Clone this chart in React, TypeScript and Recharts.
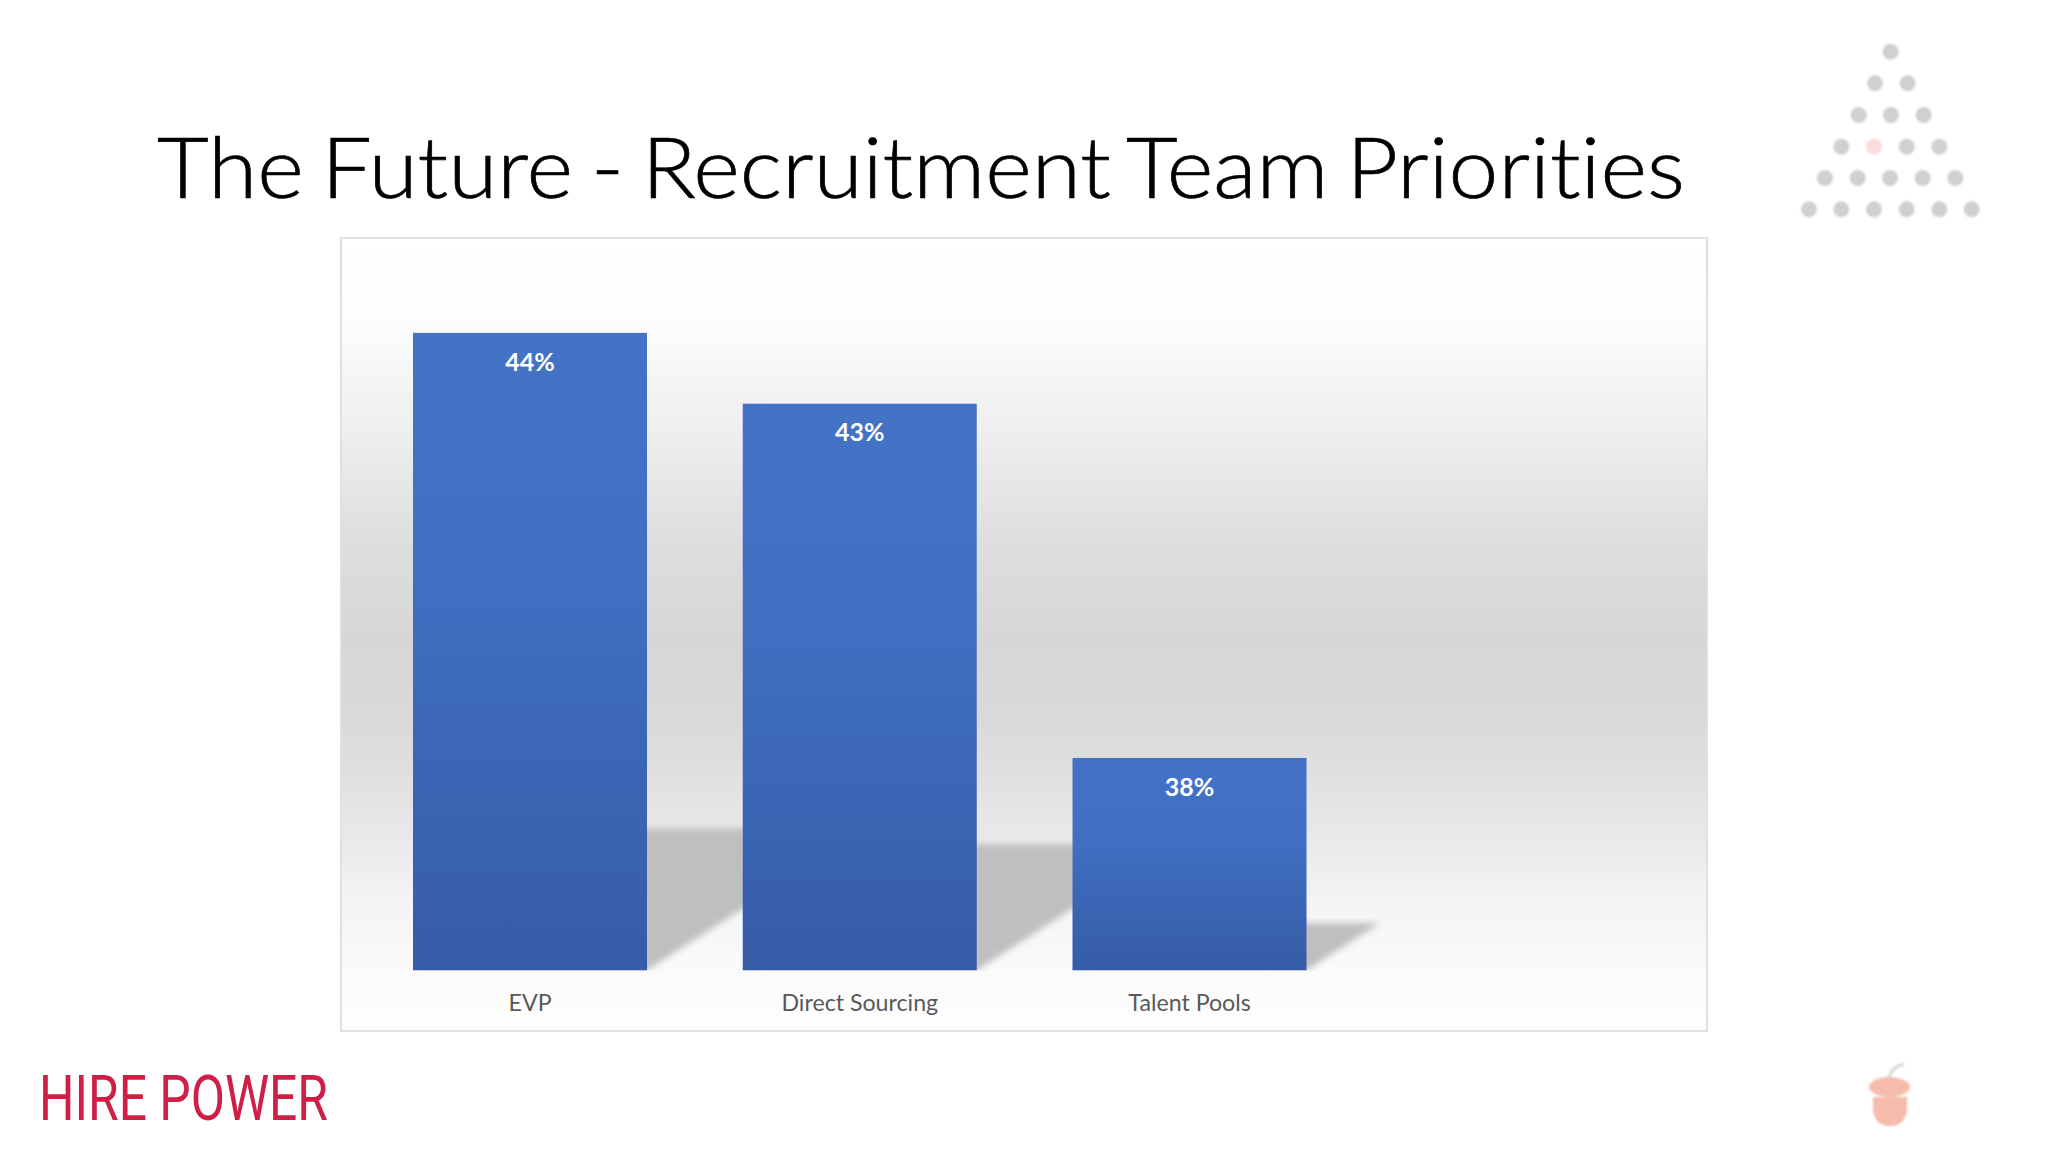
import React from 'react';
import { BarChart, Bar, XAxis, YAxis, LabelList } from 'recharts';

const categories = ['EVP', 'Direct Sourcing', 'Talent Pools', ''];
const values: (number | null)[] = [44, 43, 38, null];
const yDomain = [35, 45];
const titleText = 'The Future - Recruitment Team Priorities';
const logoText = 'HIRE POWER';

const table = categories.map((name, i) => ({ name, value: values[i] }));

const dotRows: number[][] = [
  [392],
  [345, 443],
  [296, 393, 491],
  [244, 342, 440, 538],
  [195, 293, 390, 488, 586],
  [147, 244, 342, 440, 538, 635],
];
const dotRowY = [95, 190, 285, 380, 474, 568];

const frameGradient =
  'linear-gradient(to bottom,#ffffff 0%,#fcfcfc 12%,#f9f9f9 13.5%,#eeeeee 25%,#dedede 38%,#d6d6d6 51%,#dadada 61%,#dfdedf 66%,#e8e8ea 75%,#f4f4f6 84%,#fafafb 92%,#fefeff 100%)';

const BarWithShadow = (props: any) => {
  const { x, y, width, height } = props;
  if (height == null || height <= 0) return null;
  const base = y + height;
  const dy = height * 0.223;
  const dx = height * 0.345;
  const pts = [
    [x, base],
    [x + width, base],
    [x + width + dx, base - dy],
    [x + dx, base - dy],
  ]
    .map((p) => p.join(','))
    .join(' ');
  return (
    <g>
      <polygon points={pts} fill="#bfbfbf" filter="url(#shadowBlur)" />
      <rect x={x} y={y} width={width} height={height} fill="url(#barFill)" />
    </g>
  );
};

export default function App() {
  return (
    <div style={{ position: 'absolute', left: 0, top: 0, width: 2048, height: 1152, background: '#ffffff', overflow: 'hidden' }}>
      <div
        style={{
          position: 'absolute',
          left: 340,
          top: 237,
          width: 1368,
          height: 795,
          boxSizing: 'border-box',
          border: '2px solid #e0e0e0',
          background: frameGradient,
        }}
      />
      <svg width={2048} height={1152} style={{ position: 'absolute', left: 0, top: 0 }}>
        <text
          x={157}
          y={198}
          textLength={1528}
          lengthAdjust="spacingAndGlyphs"
          fontFamily="Lato"
          fontWeight={300}
          fontSize={84}
          fill="#000000"
          stroke="#000000"
          strokeWidth={0.7}
          wordSpacing={-6}
          style={{ fontVariantLigatures: 'none' }}
        >
          {titleText}
        </text>
        <text
          x={39}
          y={1120}
          textLength={289}
          lengthAdjust="spacingAndGlyphs"
          fontFamily="Roboto"
          fontWeight={400}
          fontSize={63}
          fill="#cf1f45"
        >
          {logoText}
        </text>
        <g filter="url(#softLogo)">
          {dotRows.map((row, r) =>
            row.map((cx, c) => (
              <circle
                key={`${r}-${c}`}
                cx={1760 + cx / 3}
                cy={20 + dotRowY[r] / 3}
                r={8}
                fill={r === 3 && c === 1 ? '#fbdcdc' : '#d2cfcf'}
              />
            )),
          )}
          <path d="M1889 1078 Q1891 1067 1904 1064" stroke="#dcdcdc" strokeWidth={3.5} fill="none" />
          <ellipse cx={1889.5} cy={1087} rx={20.5} ry={10} fill="#f6bcab" />
          <path d="M1873 1097 H1907 V1110 Q1905 1126 1890 1126 Q1875 1126 1873 1110 Z" fill="#f6bcab" />
        </g>
        <defs>
          <filter id="softLogo">
            <feGaussianBlur stdDeviation="1.1" />
          </filter>
        </defs>
      </svg>
      <div style={{ position: 'absolute', left: 0, top: 0 }}>
        <BarChart
          width={2048}
          height={1152}
          data={table}
          margin={{ top: 262, bottom: 141.5, left: 365.2, right: 363.8 }}
          barCategoryGap={47.8}
        >
          <defs>
            <linearGradient id="barFill" x1="0" y1="0" x2="0" y2="1">
              <stop offset="0%" stopColor="#4472c6" />
              <stop offset="35%" stopColor="#4170c3" />
              <stop offset="100%" stopColor="#365ca7" />
            </linearGradient>
            <filter id="shadowBlur" x="-10%" y="-10%" width="120%" height="120%">
              <feGaussianBlur stdDeviation="3" />
            </filter>
          </defs>
          <YAxis hide domain={yDomain} allowDataOverflow />
          <XAxis
            dataKey="name"
            height={40}
            axisLine={false}
            tickLine={false}
            interval={0}
            tickMargin={18.5}
            tick={{ fontFamily: 'Lato', fontSize: 23.2, fill: '#595959' }}
          />
          <Bar dataKey="value" isAnimationActive={false} shape={<BarWithShadow />}>
            <LabelList
              dataKey="value"
              position="insideTop"
              offset={20}
              formatter={(v: any) => (v == null ? '' : `${v}%`)}
              style={{ fontFamily: 'Lato', fontWeight: 700, fontSize: 25, fill: '#ffffff' }}
            />
          </Bar>
        </BarChart>
      </div>
    </div>
  );
}
